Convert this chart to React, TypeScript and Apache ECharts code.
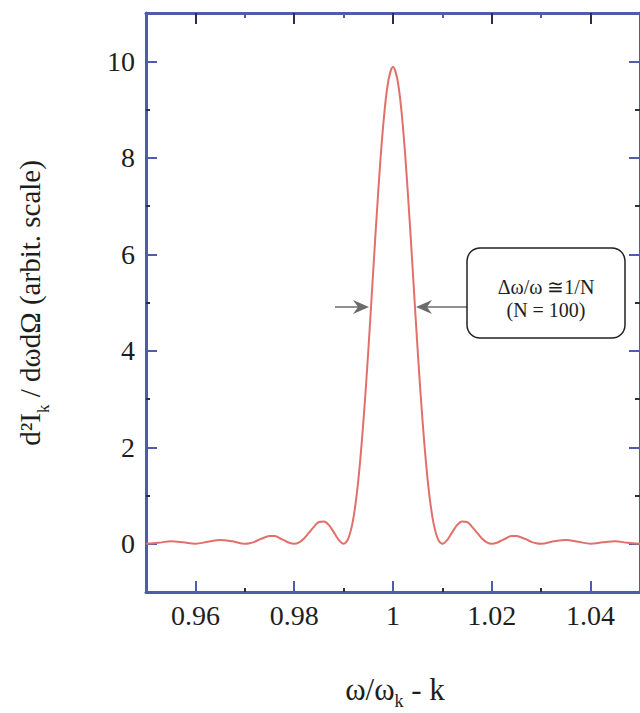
import React, { useEffect, useRef } from "react";
import * as echarts from "echarts";

// ---- data ----
const xValues = [
  0.95, 0.9525, 0.955, 0.9575, 0.96, 0.9625, 0.965, 0.9675, 0.97,
  0.971, 0.972, 0.973, 0.974, 0.975, 0.976, 0.977, 0.978, 0.979, 0.98,
  0.981, 0.982, 0.983, 0.984, 0.985, 0.986, 0.987, 0.988, 0.989, 0.99,
  0.991, 0.992, 0.993, 0.994, 0.995, 0.996, 0.997, 0.998, 0.999, 1.0,
  1.001, 1.002, 1.003, 1.004, 1.005, 1.006, 1.007, 1.008, 1.009, 1.01,
  1.011, 1.012, 1.013, 1.014, 1.015, 1.016, 1.017, 1.018, 1.019, 1.02,
  1.021, 1.022, 1.023, 1.024, 1.025, 1.026, 1.027, 1.028, 1.029, 1.03,
  1.0325, 1.035, 1.0375, 1.04, 1.0425, 1.045, 1.0475, 1.05,
];
const intensity = [
  0.0, 0.02, 0.05, 0.03, 0.0, 0.04, 0.08, 0.05, 0.0,
  0.01, 0.04, 0.09, 0.13, 0.16, 0.16, 0.12, 0.07, 0.02, 0.0,
  0.03, 0.11, 0.23, 0.35, 0.45, 0.46, 0.39, 0.24, 0.08, 0.0,
  0.12, 0.54, 1.34, 2.52, 4.0, 5.66, 7.28, 8.65, 9.56, 9.88,
  9.56, 8.65, 7.28, 5.66, 4.0, 2.52, 1.34, 0.54, 0.12, 0.0,
  0.08, 0.24, 0.39, 0.46, 0.45, 0.35, 0.23, 0.11, 0.03, 0.0,
  0.02, 0.07, 0.12, 0.16, 0.16, 0.13, 0.09, 0.04, 0.01, 0.0,
  0.05, 0.08, 0.04, 0.0, 0.03, 0.05, 0.02, 0.0,
];
const xMajorTicks = [0.96, 0.98, 1, 1.02, 1.04];
const xMinorTicks = [0.97, 0.99, 1.01, 1.03];
const yMajorTicks = [0, 2, 4, 6, 8, 10];
const yMinorTicks = [1, 3, 5, 7, 9];
const xRange = [0.95, 1.05];
const yRange = [-1, 11];
const annotationLines = ["Δω/ω ≅1/N", "(N = 100)"];

const SERIF = "Liberation Serif, Times New Roman, serif";
const AXIS_BLUE = "#4d5dab";
const TICK_DARK = "#2a2f45";

function makeXAxis(position: "bottom" | "top", ticks: number[], len: number, color: string, showLine: boolean, showLabel: boolean) {
  return {
    type: "value",
    position,
    min: xRange[0],
    max: xRange[1],
    axisLine: { show: showLine, onZero: false, lineStyle: { color: AXIS_BLUE, width: 3 } },
    axisTick: { show: true, inside: true, length: len, customValues: ticks, lineStyle: { color, width: 2 } },
    axisLabel: {
      show: showLabel,
      customValues: ticks,
      margin: 9,
      fontSize: 28,
      fontFamily: SERIF,
      color: "#1e1e1e",
    },
    splitLine: { show: false },
  };
}

function makeYAxis(position: "left" | "right", ticks: number[], len: number, color: string, showLine: boolean, showLabel: boolean) {
  return {
    type: "value",
    position,
    min: yRange[0],
    max: yRange[1],
    axisLine: { show: showLine, onZero: false, lineStyle: { color: AXIS_BLUE, width: 3 } },
    axisTick: { show: true, inside: true, length: len, customValues: ticks, lineStyle: { color, width: 2 } },
    axisLabel: {
      show: showLabel,
      customValues: ticks,
      margin: 11,
      fontSize: 28,
      fontFamily: SERIF,
      color: "#1e1e1e",
    },
    splitLine: { show: false },
  };
}

export default function App() {
  const ref = useRef<HTMLDivElement>(null);

  useEffect(() => {
    if (!ref.current) return;
    const chart = echarts.init(ref.current, null, { renderer: "svg" });
    const data = xValues.map((x, i) => [x, intensity[i]]);

    chart.setOption({
      animation: false,
      backgroundColor: "#ffffff",
      grid: { left: 146, top: 13, width: 499, height: 579, containLabel: false },
      xAxis: [
        makeXAxis("bottom", xMajorTicks, 11, AXIS_BLUE, true, true),
        makeXAxis("bottom", xMinorTicks, 4, TICK_DARK, false, false),
        makeXAxis("top", xMajorTicks, 11, TICK_DARK, true, false),
        makeXAxis("top", xMinorTicks, 5, AXIS_BLUE, false, false),
      ],
      yAxis: [
        makeYAxis("left", yMajorTicks, 11, AXIS_BLUE, true, true),
        makeYAxis("left", yMinorTicks, 4, TICK_DARK, false, false),
        makeYAxis("right", yMajorTicks, 11, AXIS_BLUE, true, false),
        makeYAxis("right", yMinorTicks, 5, TICK_DARK, false, false),
      ],
      series: [
        {
          type: "line",
          xAxisIndex: 0,
          yAxisIndex: 0,
          data,
          smooth: 0.35,
          showSymbol: false,
          symbol: "none",
          lineStyle: { color: "#e2706a", width: 2 },
        },
      ],
      graphic: [
        // y-axis title
        {
          type: "text",
          x: 30,
          y: 303,
          rotation: Math.PI / 2,
          style: {
            text: "{m|d²I}{s|k}{m| / dωdΩ (arbit. scale)}",
            align: "center",
            verticalAlign: "middle",
            textAlign: "center",
            textVerticalAlign: "middle",
            fill: "#1e1e1e",
            rich: {
              m: { fontSize: 29, fontFamily: SERIF, lineHeight: 44, verticalAlign: "middle", fill: "#1e1e1e" },
              s: { fontSize: 17, fontFamily: SERIF, verticalAlign: "bottom", fill: "#1e1e1e" },
            },
          },
        },
        // x-axis title
        {
          type: "text",
          x: 395,
          y: 689,
          style: {
            text: "{m|ω/ω}{s|k}{m| - k}",
            align: "center",
            verticalAlign: "middle",
            textAlign: "center",
            textVerticalAlign: "middle",
            fill: "#1e1e1e",
            rich: {
              m: { fontSize: 31, fontFamily: SERIF, lineHeight: 42, verticalAlign: "middle", fill: "#1e1e1e" },
              s: { fontSize: 18, fontFamily: SERIF, verticalAlign: "bottom", fill: "#1e1e1e" },
            },
          },
        },
        // arrows
        { type: "line", shape: { x1: 335, y1: 307, x2: 362, y2: 307 }, style: { stroke: "#6b6b6b", lineWidth: 1.5 }, z: 10 },
        { type: "polygon", shape: { points: [[369, 307], [353, 300], [358, 307], [353, 314]] }, style: { fill: "#6b6b6b" }, z: 10 },
        { type: "line", shape: { x1: 423, y1: 307, x2: 467, y2: 307 }, style: { stroke: "#6b6b6b", lineWidth: 1.5 }, z: 10 },
        { type: "polygon", shape: { points: [[416, 307], [432, 300], [427, 307], [432, 314]] }, style: { fill: "#6b6b6b" }, z: 10 },
        // annotation box
        {
          type: "rect",
          shape: { x: 467, y: 248, width: 158, height: 90, r: 13 },
          style: { fill: "#ffffff", stroke: "#222", lineWidth: 1.5 },
          z: 10,
        },
        {
          type: "text",
          x: 546,
          y: 287,
          z: 11,
          style: {
            text: annotationLines[0],
            align: "center",
            verticalAlign: "middle",
            textAlign: "center",
            textVerticalAlign: "middle",
            fontSize: 20,
            lineHeight: 20,
            fontFamily: SERIF,
            fill: "#1e1e1e",
          },
        },
        {
          type: "text",
          x: 546,
          y: 310,
          z: 11,
          style: {
            text: annotationLines[1],
            align: "center",
            verticalAlign: "middle",
            textAlign: "center",
            textVerticalAlign: "middle",
            fontSize: 20,
            lineHeight: 20,
            fontFamily: SERIF,
            fill: "#1e1e1e",
          },
        },
      ],
    });

    return () => chart.dispose();
  }, []);

  return (
    <div
      ref={ref}
      style={{ position: "absolute", left: 0, top: 0, width: 640, height: 713, overflow: "hidden" }}
    />
  );
}
